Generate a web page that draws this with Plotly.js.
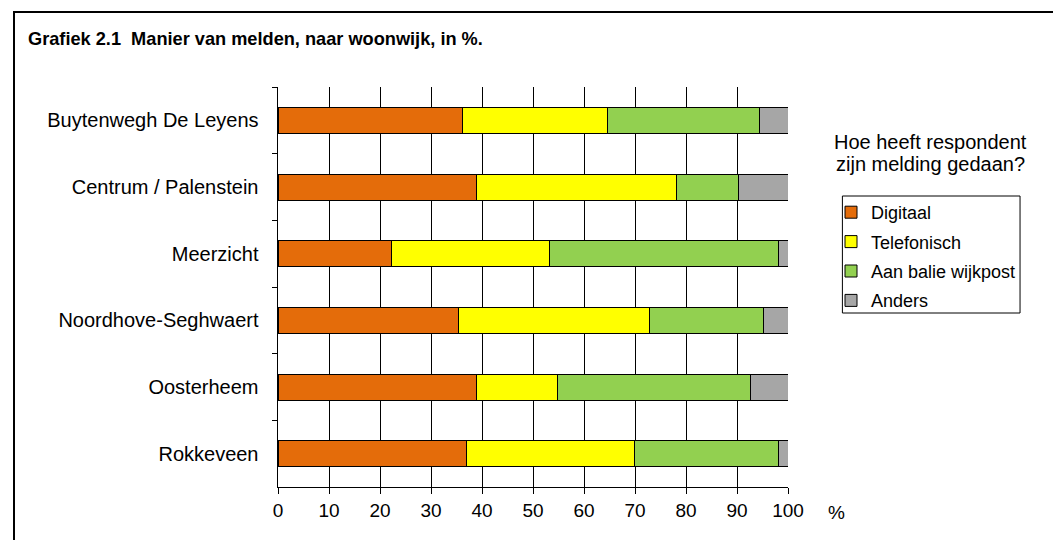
<!DOCTYPE html>
<html>
<head>
<meta charset="utf-8">
<script src="https://cdn.plot.ly/plotly-3.0.1.min.js"></script>
<style>
  html, body { margin: 0; padding: 0; background: #fff; }
  #wrap { position: relative; width: 1053px; height: 540px; overflow: hidden; }
  #chart { position: absolute; left: 0; top: 0; width: 1053px; height: 540px; }
  #frame { position: absolute; left: 13px; top: 11px; width: 1100px; height: 600px;
           border-left: 2px solid #000; border-top: 2px solid #000; pointer-events: none; }
</style>
</head>
<body>
<div id="wrap">
  <div id="chart"></div>
  <div id="frame"></div>
</div>
<script>
const categories = ["Buytenwegh De Leyens", "Centrum / Palenstein", "Meerzicht",
                    "Noordhove-Seghwaert", "Oosterheem", "Rokkeveen"];
const digitaal    = [36.2, 39.0, 22.3, 35.4, 39.0, 36.9];
const telefonisch = [28.5, 39.1, 31.0, 37.5, 15.9, 33.0];
const balie       = [29.7, 12.2, 44.9, 22.3, 37.7, 28.3];
const anders      = [5.6, 9.7, 1.8, 4.8, 7.4, 1.8];
const seriesNames = ["Digitaal", "Telefonisch", "Aan balie wijkpost", "Anders"];
const seriesColors = ["#E46C0A", "#FFFF00", "#92D050", "#A6A6A6"];
const tickValues = [0, 10, 20, 30, 40, 50, 60, 70, 80, 90, 100];

const FONT = "Liberation Sans, Arial, sans-serif";
const seriesData = [digitaal, telefonisch, balie, anders];

// plot area geometry (pixels)
const L = 277.5, R = 788.5, T = 87, B = 487;
const W = 1053, H = 540;
const px = x => (x - L) / (R - L);
const py = y => 1 - (y - T) / (B - T);

const traces = seriesData.map((vals, i) => ({
  type: "bar",
  orientation: "h",
  name: seriesNames[i],
  legendgroup: "g" + i,
  x: vals,
  y: categories,
  marker: { color: seriesColors[i], line: { color: "#000", width: 1 } },
  hoverinfo: "x+y+name"
}));

const layout = {
  width: W, height: H,
  paper_bgcolor: "#fff", plot_bgcolor: "#fff",
  margin: { l: L, r: W - R, t: T, b: H - B, pad: 0 },
  barmode: "stack",
  bargap: 0.61,
  font: { family: FONT, color: "#000", size: 18 },
  title: {
    text: "<b>Grafiek 2.1  Manier van melden, naar woonwijk, in %.</b>",
    font: { family: FONT, size: 18.2, color: "#000" },
    x: 28 / W, xanchor: "left", xref: "container",
    y: 1 - 39 / H, yanchor: "middle", yref: "container"
  },
  xaxis: {
    range: [0, 100],
    tickvals: tickValues,
    ticktext: tickValues.map(String),
    showgrid: true, gridcolor: "#000", gridwidth: 1,
    showline: true, linecolor: "#000", linewidth: 1,
    ticks: "outside", ticklen: 6, tickcolor: "#000",
    tickfont: { family: FONT, size: 19, color: "#000" },
    zeroline: false, fixedrange: true
  },
  yaxis: {
    autorange: "reversed",
    type: "category",
    showgrid: false,
    showline: true, linecolor: "#000", linewidth: 1.5,
    ticks: "outside", ticklen: 5, tickcolor: "#000",
    tickson: "boundaries",
    ticklabelstandoff: 14,
    tickfont: { family: FONT, size: 20, color: "#000" },
    fixedrange: true
  },
  showlegend: true,
  legend: {
    x: 831 / W, xref: "container", xanchor: "left",
    y: 1 - 194 / H, yref: "container", yanchor: "top",
    bgcolor: "rgba(0,0,0,0)", borderwidth: 0,
    font: { family: FONT, size: 18, color: "#000" },
    traceorder: "grouped",
    tracegroupgap: 3,
    itemwidth: 30
  },
  shapes: [
    {
      type: "rect", xref: "paper", yref: "paper",
      x0: px(843), x1: px(1021), y0: py(196), y1: py(313),
      line: { color: "#000", width: 1 }, fillcolor: "#fff", layer: "below"
    }
  ],
  annotations: [
    {
      text: "Hoe heeft respondent",
      xref: "paper", yref: "paper",
      x: px(931), y: py(142),
      xanchor: "center", yanchor: "middle",
      showarrow: false, align: "center",
      font: { family: FONT, size: 20, color: "#000" }
    },
    {
      text: "zijn melding gedaan?",
      xref: "paper", yref: "paper",
      x: px(931), y: py(164),
      xanchor: "center", yanchor: "middle",
      showarrow: false, align: "center",
      font: { family: FONT, size: 20, color: "#000" }
    },
    {
      text: "%",
      xref: "paper", yref: "paper",
      x: px(837), y: py(512),
      xanchor: "center", yanchor: "middle",
      showarrow: false,
      font: { family: FONT, size: 19, color: "#000" }
    }
  ]
};

Plotly.newPlot("chart", traces, layout, { displayModeBar: false, staticPlot: true });
</script>
</body>
</html>
